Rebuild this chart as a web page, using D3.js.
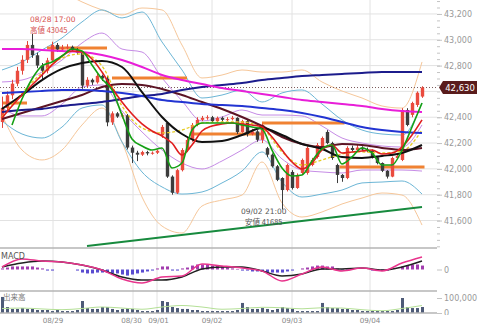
<!DOCTYPE html>
<html>
<head>
<meta charset="utf-8">
<script src="https://cdn.jsdelivr.net/npm/d3@7"></script>
<style>
body { margin: 0; background: #fff; }
svg { display: block; }
</style>
</head>
<body>
<script>
// ---- data ----
// hourly-ish candles, index 0..84
var opens  = [42363,42471,42570,42660,42760,42845,42960,42880,42800,42760,42840,42960,42925,42940,42945,42920,42900,42645,42690,42670,42720,42700,42360,42430,42405,42415,42165,42125,42110,42130,42120,42125,42260,42355,41940,41815,41990,42146,42224,42340,42380,42395,42400,42370,42395,42380,42385,42395,42285,42370,42270,42290,42225,42160,42110,42020,41929,41836,41976,41852,41968,41968,42030,42092,42169,42286,42200,42030,41953,41929,42162,42146,42165,42150,42140,42090,42045,41985,41940,42084,42069,42456,42418,42495,42560];
var closes = [42471,42570,42660,42760,42845,42960,42880,42800,42760,42840,42960,42925,42940,42945,42920,42900,42645,42690,42670,42720,42700,42360,42430,42405,42415,42165,42125,42110,42130,42120,42125,42140,42325,41940,41815,41990,42146,42224,42340,42380,42395,42400,42370,42395,42380,42385,42395,42285,42370,42270,42290,42225,42340,42110,42020,41915,41836,42030,41852,41953,42069,42162,42069,42185,42239,42200,42084,41953,41929,42162,42146,42165,42150,42140,42090,42045,41985,41940,42084,42100,42456,42340,42510,42590,42630];
var highs  = [42560,42600,42690,42790,42880,42990,43045,42900,42820,42860,42985,42975,42960,42965,42955,42935,42910,42710,42700,42735,42730,42720,42445,42440,42430,42425,42180,42140,42140,42140,42135,42150,42340,42360,41950,42000,42160,42240,42355,42400,42410,42415,42410,42405,42405,42400,42410,42400,42380,42380,42310,42300,42350,42170,42120,42030,41935,42040,41990,41965,42080,42175,42085,42200,42250,42300,42210,42040,41960,42175,42180,42185,42175,42165,42150,42100,42050,41990,42095,42115,42470,42470,42520,42600,42640];
var lows   = [42317,42450,42540,42640,42730,42820,42860,42780,42690,42740,42830,42905,42910,42925,42905,42885,42620,42630,42650,42660,42680,42330,42340,42395,42390,42150,42045,42060,42100,42105,42110,42115,42240,41930,41800,41805,41980,42130,42210,42330,42370,42380,42360,42360,42365,42370,42375,42270,42280,42250,42260,42210,42200,42090,42010,41905,41685,41825,41840,41845,41960,41955,42020,42080,42160,42190,42070,41890,41900,41920,42135,42140,42140,42130,42080,42035,41975,41925,41935,42075,42060,42330,42400,42480,42550];
var volumes = [107,40,27,27,33,27,27,20,20,20,13,20,13,13,13,20,80,33,27,27,40,40,27,20,27,33,27,20,13,13,13,20,80,73,40,33,27,27,20,20,13,13,13,13,13,13,13,20,67,40,27,27,33,27,20,27,40,33,27,13,13,13,13,13,67,40,33,33,27,27,20,20,13,13,13,13,13,13,13,20,100,40,33,33,40];
var macdHist = [6,11,17,17,17,17,17,11,6,-6,-6,0,0,0,0,-6,-17,-22,-22,-17,-17,-17,-22,-22,-28,-34,-28,-22,-17,-11,-6,6,17,17,-6,-6,6,11,22,28,28,28,22,22,17,11,6,3,-6,-6,-11,-11,-11,-17,-17,-17,-17,-11,-6,0,6,11,17,22,22,17,17,6,-6,-6,0,0,0,0,-6,-6,-6,-6,0,0,17,22,28,28,22];

// lines sampled every 4 candles
var idx4 = [0,4,8,12,16,20,24,28,32,36,40,44,48,52,56,60,64,68,72,76,80,84];
var magentaMA = [42928,42928,42921,42913,42905,42882,42843,42789,42727,42688,42657,42626,42603,42580,42557,42533,42518,42502,42487,42464,42448,42440];
var navyMA    = [42440,42456,42464,42487,42502,42518,42541,42564,42580,42611,42634,42650,42665,42688,42704,42719,42727,42735,42743,42750,42750,42750];
var blueMA    = [42588,42595,42603,42611,42611,42603,42588,42564,42533,42518,42502,42495,42487,42471,42456,42433,42402,42363,42324,42301,42286,42278];
var blackMA   = [42464,42572,42688,42774,42820,42836,42789,42595,42402,42270,42208,42216,42262,42317,42262,42193,42154,42092,42084,42100,42123,42185];
var maroonMA  = [42386,42433,42479,42526,42572,42634,42657,42650,42619,42572,42518,42464,42402,42332,42247,42193,42169,42193,42185,42162,42146,42162];
var yellowMA  = [42402,42588,42743,42859,42890,42797,42487,42317,42278,42301,42355,42363,42363,42317,42131,42030,42069,42115,42131,42123,42138,42301];
var bandUp3 = [43540,43502,43424,43370,43293,43231,43192,43246,43231,42959,42704,42727,42766,42750,42750,42766,42673,42603,42549,42487,42471,42828];
var bandUp2 = [42766,42828,42921,43014,43138,43231,43169,43215,42983,42766,42549,42572,42611,42518,42588,42611,42502,42379,42301,42270,42262,42510];
var bandUp1 = [42673,42688,42750,42843,42975,43052,42928,42905,42704,42526,42371,42402,42456,42417,42417,42410,42332,42239,42200,42177,42169,42340];
var bandLo1 = [42471,42410,42410,42502,42634,42650,42448,42286,42146,42045,41999,42061,42146,42224,42077,41991,41976,41968,41991,41991,41991,41983];
var bandLo2 = [42371,42270,42239,42324,42471,42495,42208,41976,41860,41805,41821,41891,41983,42131,41898,41782,41805,41836,41891,41898,41906,41805];
var bandLo3 = [42417,42146,42069,42146,42340,42471,42208,41782,41557,41503,41712,41759,41797,42053,41736,41627,41666,41728,41774,41813,41797,41565];
var macdLine   = [14,59,47,42,25,-3,-53,-75,-42,-36,31,20,8,-8,-64,-25,14,-8,8,-8,36,70];
var signalLine = [14,36,47,42,25,-3,-42,-59,-59,-42,3,14,14,-8,-36,-25,3,3,8,-3,14,47];
var volumeMA   = [30,33,27,22,30,40,33,25,40,50,40,25,30,38,35,28,35,33,22,15,30,50];

// faster lines sampled every 2 candles
var idx2 = [0,2,4,6,8,10,12,14,16,18,20,22,24,26,28,30,32,34,36,38,40,42,44,46,48,50,52,54,56,58,60,62,64,66,68,70,72,74,76,78,80,82,84];
var redMA   = [42394,42487,42572,42650,42727,42805,42874,42913,42905,42851,42750,42626,42518,42425,42348,42293,42255,42200,42107,42185,42293,42332,42348,42355,42348,42340,42324,42247,42146,42053,41999,42045,42146,42185,42123,42131,42138,42146,42115,42123,42169,42262,42379];
var greenMA = [null,42340,42541,42696,42797,42828,42874,42928,42913,42805,42696,42611,42417,42231,42177,42146,42162,42007,42045,42301,42355,42355,42355,42355,42340,42324,42309,42146,42007,41945,41953,42061,42154,42185,42038,42092,42162,42123,42030,42030,42146,42324,42510];

// horizontal levels [startIdx, endIdx], price
var levelStart = [0, 9, 22, 37.5, 52, 67.5];
var levelEnd   = [5, 21, 37, 52, 68.5, 84.5];
var levelPrice = [42510, 42936, 42704, 42270, 42355, 42014];
var trendIdx   = [17, 84];
var trendPrice = [41402, 41705];

var priceTicks = [41600, 41800, 42000, 42200, 42400, 42600, 42800, 43000, 43200];
var dateLabels = ["08/29", "08/30", "09/01", "09/02", "09/03", "09/04"];
var dateIdx    = [10.2, 26.2, 31, 42, 58, 73.6];
var lastPrice = 42630;

// ---- layout ----
var width = 480, height = 332;
var plotRight = 437;
var mainBottom = 248, macdBottom = 291, volBottom = 313;
var font = "'DejaVu Sans', Verdana, sans-serif";
var jpFont = "'Noto Sans CJK JP', 'DejaVu Sans', sans-serif";

var svg = d3.select("body").append("svg")
    .attr("width", width)
    .attr("height", height);

var x = d3.scaleLinear().domain([0, 84]).range([2, 422]);
var y = d3.scaleLinear().domain([41387, 43308]).range([mainBottom, 0]);
var yMacd = d3.scaleLinear().domain([-120, 120]).range([macdBottom, mainBottom]);
var yVol = d3.scaleLinear().domain([0, 100000]).range([volBottom, 298]);

var defs = svg.append("defs");
defs.append("clipPath").attr("id", "clipMain")
    .append("rect").attr("x", 0).attr("y", 0).attr("width", plotRight).attr("height", mainBottom);
defs.append("clipPath").attr("id", "clipMacd")
    .append("rect").attr("x", 0).attr("y", mainBottom).attr("width", plotRight).attr("height", macdBottom - mainBottom);
defs.append("clipPath").attr("id", "clipVol")
    .append("rect").attr("x", 0).attr("y", macdBottom).attr("width", plotRight).attr("height", volBottom - macdBottom);
defs.append("clipPath").attr("id", "clipAxis")
    .append("rect").attr("x", 437).attr("y", 0).attr("width", 43).attr("height", 315);

// grid
var grid = svg.append("g");
grid.selectAll("line.h")
    .data(priceTicks)
    .enter().append("line")
    .attr("x1", 0).attr("x2", plotRight)
    .attr("y1", d => y(d)).attr("y2", d => y(d))
    .attr("stroke", "#e2e2e2").attr("stroke-width", 1);
grid.selectAll("line.v")
    .data(dateIdx)
    .enter().append("line")
    .attr("x1", d => x(d)).attr("x2", d => x(d))
    .attr("y1", 0).attr("y2", volBottom)
    .attr("stroke", "#e2e2e2").attr("stroke-width", 1);

// main panel
var main = svg.append("g").attr("clip-path", "url(#clipMain)");

function sampled(idx, vals) {
    return idx.map((d, i) => [d, vals[i]]);
}
function drawLine(g, pts, color, w, dash) {
    var line = d3.line()
        .defined(d => d[1] != null)
        .x(d => x(d[0]))
        .y(d => y(d[1]))
        .curve(d3.curveMonotoneX);
    g.append("path")
        .datum(pts)
        .attr("d", line)
        .attr("fill", "none")
        .attr("stroke", color)
        .attr("stroke-width", w)
        .attr("stroke-dasharray", dash || null);
}

// bollinger bands
drawLine(main, sampled(idx4, bandUp3), "#f6c79a", 1);
drawLine(main, sampled(idx4, bandLo3), "#f6c79a", 1);
drawLine(main, sampled(idx4, bandUp2), "#6cb6d6", 1);
drawLine(main, sampled(idx4, bandLo2), "#6cb6d6", 1);
drawLine(main, sampled(idx4, bandUp1), "#c68ce6", 1);
drawLine(main, sampled(idx4, bandLo1), "#c68ce6", 1);

// current price dotted line
main.append("line")
    .attr("x1", 0).attr("x2", plotRight)
    .attr("y1", y(lastPrice)).attr("y2", y(lastPrice))
    .attr("stroke", "#7a5a5a").attr("stroke-width", 1)
    .attr("stroke-dasharray", "1,2");

// orange levels
main.selectAll("line.level")
    .data(levelPrice)
    .enter().append("line")
    .attr("x1", (d, i) => x(levelStart[i]))
    .attr("x2", (d, i) => x(levelEnd[i]))
    .attr("y1", d => y(d)).attr("y2", d => y(d))
    .attr("stroke", "#f08232").attr("stroke-width", 3);

// candles
var candles = main.append("g");
candles.selectAll("line.wick")
    .data(closes)
    .enter().append("line")
    .attr("x1", (d, i) => x(i) + 0.5).attr("x2", (d, i) => x(i) + 0.5)
    .attr("y1", (d, i) => y(highs[i])).attr("y2", (d, i) => y(lows[i]))
    .attr("stroke", (d, i) => d >= opens[i] ? "#e0453a" : "#3c3c3c")
    .attr("stroke-width", 1);
candles.selectAll("rect")
    .data(closes)
    .enter().append("rect")
    .attr("x", (d, i) => x(i) - 1.2)
    .attr("width", 3.4)
    .attr("y", (d, i) => y(Math.max(d, opens[i])))
    .attr("height", (d, i) => Math.max(1, Math.abs(y(d) - y(opens[i]))))
    .attr("fill", (d, i) => d >= opens[i] ? "#ea4b3e" : "#3c3c3c");

// moving averages
drawLine(main, sampled(idx4, yellowMA), "#e6cc22", 1.3, "3,2");
drawLine(main, sampled(idx4, maroonMA), "#5c1424", 2);
drawLine(main, sampled(idx4, navyMA), "#1c1c8c", 2);
drawLine(main, sampled(idx4, blueMA), "#2234d2", 2);
drawLine(main, sampled(idx4, magentaMA), "#e81ed8", 2);
drawLine(main, sampled(idx4, blackMA), "#111111", 2);
drawLine(main, sampled(idx2, redMA), "#e01e1e", 1.6);
drawLine(main, sampled(idx2, greenMA), "#14a014", 1.6);

// trend line
main.append("line")
    .attr("x1", x(trendIdx[0])).attr("y1", y(trendPrice[0]))
    .attr("x2", x(trendIdx[1])).attr("y2", y(trendPrice[1]))
    .attr("stroke", "#178a3e").attr("stroke-width", 2);

// high / low notes
svg.append("text").attr("x", 30).attr("y", 22)
    .attr("font-family", font).attr("font-size", 7.5).attr("fill", "#d65050")
    .text("08/28 17:00");
svg.append("text").attr("x", 30).attr("y", 33)
    .attr("font-family", jpFont).attr("font-size", 7.5).attr("fill", "#d65050")
    .text("高値 43045");
svg.append("text").attr("x", 241).attr("y", 214)
    .attr("font-family", font).attr("font-size", 7.5).attr("fill", "#555")
    .text("09/02 21:00");
svg.append("text").attr("x", 245).attr("y", 225)
    .attr("font-family", jpFont).attr("font-size", 7.5).attr("fill", "#555")
    .text("安値 41685");

// MACD panel
var macd = svg.append("g").attr("clip-path", "url(#clipMacd)");
macd.selectAll("rect")
    .data(macdHist)
    .enter().append("rect")
    .attr("x", (d, i) => x(i) - 1)
    .attr("width", 3)
    .attr("y", d => yMacd(Math.max(0, d)))
    .attr("height", d => Math.abs(yMacd(d) - yMacd(0)))
    .attr("fill", d => d >= 0 ? "#a23cae" : "#5a4cd0");
var macdPath = d3.line()
    .x(d => x(d[0]))
    .y(d => yMacd(d[1]))
    .curve(d3.curveMonotoneX);
macd.append("path")
    .datum(sampled(idx4, signalLine))
    .attr("d", macdPath)
    .attr("fill", "none").attr("stroke", "#222").attr("stroke-width", 1.5);
macd.append("path")
    .datum(sampled(idx4, macdLine))
    .attr("d", macdPath)
    .attr("fill", "none").attr("stroke", "#e8348c").attr("stroke-width", 1.5);
svg.append("text").attr("x", 1).attr("y", 259)
    .attr("font-family", font).attr("font-size", 8).attr("fill", "#555")
    .text("MACD");

// volume panel
var vol = svg.append("g").attr("clip-path", "url(#clipVol)");
vol.selectAll("rect")
    .data(volumes)
    .enter().append("rect")
    .attr("x", (d, i) => x(i) - 1)
    .attr("width", 3)
    .attr("y", d => yVol(d * 1000))
    .attr("height", d => yVol(0) - yVol(d * 1000))
    .attr("fill", "#4e5b78");
vol.append("path")
    .datum(sampled(idx4, volumeMA))
    .attr("d", d3.line().x(d => x(d[0])).y(d => yVol(d[1] * 1000)).curve(d3.curveMonotoneX))
    .attr("fill", "none").attr("stroke", "#b4e096").attr("stroke-width", 1);
svg.append("text").attr("x", 3).attr("y", 300)
    .attr("font-family", jpFont).attr("font-size", 7.5).attr("fill", "#777")
    .text("出来高");

// panel separators
svg.selectAll("line.sep")
    .data([mainBottom, macdBottom, volBottom])
    .enter().append("line")
    .attr("x1", 0).attr("x2", plotRight)
    .attr("y1", d => d).attr("y2", d => d)
    .attr("stroke", "#b4b4b4").attr("stroke-width", 1.5);

// right axes
var axisG = svg.append("g").attr("clip-path", "url(#clipAxis)");
var minorTicks = d3.range(41400, 43301, 50);
axisG.append("g")
    .attr("transform", "translate(" + plotRight + ",0)")
    .call(d3.axisRight(y).tickValues(minorTicks).tickSize(3).tickFormat(""));
axisG.append("g")
    .attr("transform", "translate(" + plotRight + ",0)")
    .call(d3.axisRight(y).tickValues(priceTicks.filter(d => d !== 42600)).tickSize(5).tickPadding(2).tickFormat(d3.format(",")));
axisG.append("g")
    .attr("transform", "translate(" + plotRight + ",0)")
    .call(d3.axisRight(yMacd).tickValues([0]).tickSize(5).tickPadding(2));
axisG.append("g")
    .attr("transform", "translate(" + plotRight + ",0)")
    .call(d3.axisRight(yVol).tickValues([0, 100000]).tickSize(5).tickPadding(2).tickFormat(d3.format(",")));
axisG.selectAll(".domain").remove();
axisG.selectAll(".tick line").attr("stroke", "#c4c4c4");
axisG.selectAll(".tick text")
    .attr("fill", "#999")
    .attr("font-family", font)
    .attr("font-size", 8);

// last price tag (covers the 42,600 tick)
var ly = y(lastPrice);
svg.append("path")
    .attr("d", "M439," + ly + " L443," + (ly - 6.5) + " L477," + (ly - 6.5) + " L477," + (ly + 6.5) + " L443," + (ly + 6.5) + " Z")
    .attr("fill", "#5a1c1c");
svg.append("text")
    .attr("x", 460).attr("y", ly + 3)
    .attr("text-anchor", "middle")
    .attr("font-family", font).attr("font-size", 8.5).attr("fill", "#fff")
    .text(d3.format(",")(lastPrice));

// date labels
svg.selectAll("text.date")
    .data(dateLabels)
    .enter().append("text")
    .attr("x", (d, i) => x(dateIdx[i]) + (i === 1 ? -1.5 : i === 2 ? 1.5 : 0))
    .attr("y", 323)
    .attr("text-anchor", "middle")
    .attr("font-family", font).attr("font-size", 7.2).attr("fill", "#888")
    .text(d => d);
</script>
</body>
</html>
